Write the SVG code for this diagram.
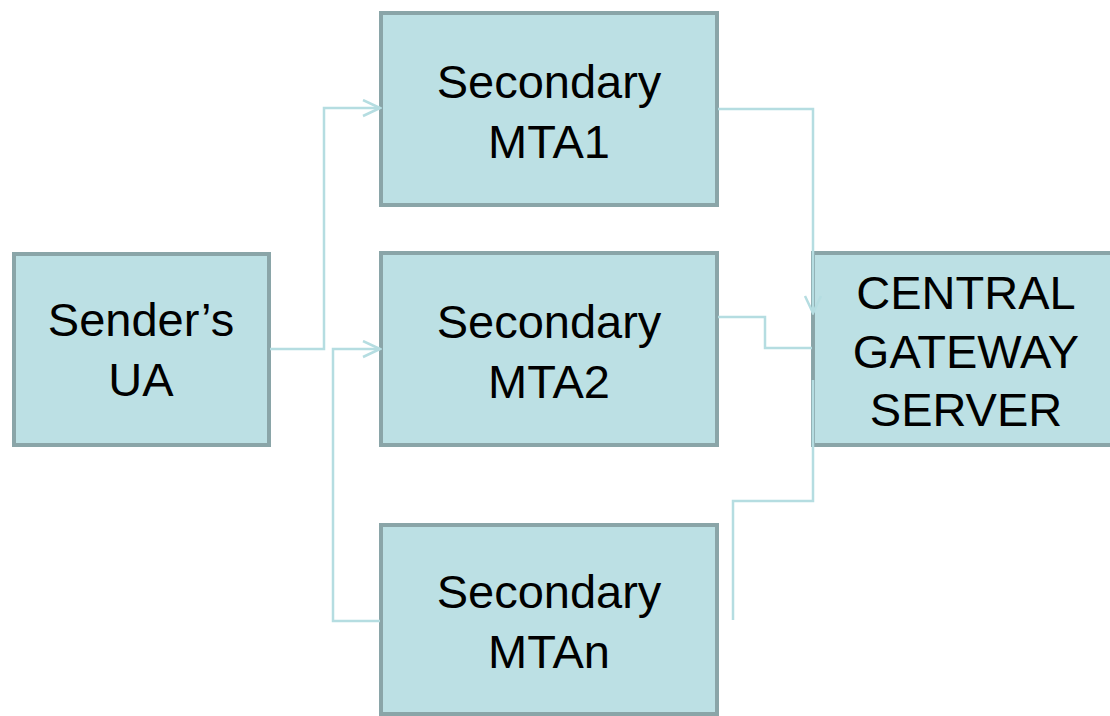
<svg xmlns="http://www.w3.org/2000/svg" width="1110" height="716" viewBox="0 0 1110 716">
<defs>
<style>
.box{fill:#bce0e4;stroke:#8aa5a8;stroke-width:4}
.lbl{font-family:"Liberation Sans",Arial,sans-serif;font-size:47px;fill:#000;text-anchor:middle}
.con{fill:none;stroke:#b5dde1;stroke-width:2.5}
</style>
<marker id="arr" markerWidth="20" markerHeight="20" refX="18" refY="9" orient="auto" markerUnits="userSpaceOnUse">
<path d="M1,1 L18,9 L1,17" fill="none" stroke="#b5dde1" stroke-width="2.5"/>
</marker>
</defs>
<rect width="1110" height="716" fill="#fff"/>
<g id="sender">
<rect class="box" x="14" y="254" width="255" height="191"/>
<text class="lbl" x="141" y="336">Sender’s</text>
<text class="lbl" x="141" y="396">UA</text>
</g>
<g id="mta1">
<rect class="box" x="381" y="13" width="336" height="192"/>
<text class="lbl" x="549" y="98">Secondary</text>
<text class="lbl" x="549" y="158">MTA1</text>
</g>
<g id="mta2">
<rect class="box" x="381" y="253" width="336" height="192"/>
<text class="lbl" x="549" y="338">Secondary</text>
<text class="lbl" x="549" y="398">MTA2</text>
</g>
<g id="mtan">
<rect class="box" x="381" y="525" width="336" height="189"/>
<text class="lbl" x="549" y="608">Secondary</text>
<text class="lbl" x="549" y="668">MTAn</text>
</g>
<g id="central">
<rect class="box" x="813" y="253" width="310" height="192"/>
<text class="lbl" x="966" y="309">CENTRAL</text>
<text class="lbl" x="966" y="368">GATEWAY</text>
<text class="lbl" x="966" y="426">SERVER</text>
</g>
<g id="connectors">
<polyline class="con" points="270,349 324,349 324,108 380,108" marker-end="url(#arr)"/>
<polyline class="con" points="380,621 333,621 333,349 380,349" marker-end="url(#arr)"/>
<polyline class="con" points="718,109 813,109 813,313" marker-end="url(#arr)"/>
<polyline class="con" points="718,317 765,317 765,348 812,348"/>
<polyline class="con" points="813,380 813,501 733,501 733,620"/>
</g>
</svg>
